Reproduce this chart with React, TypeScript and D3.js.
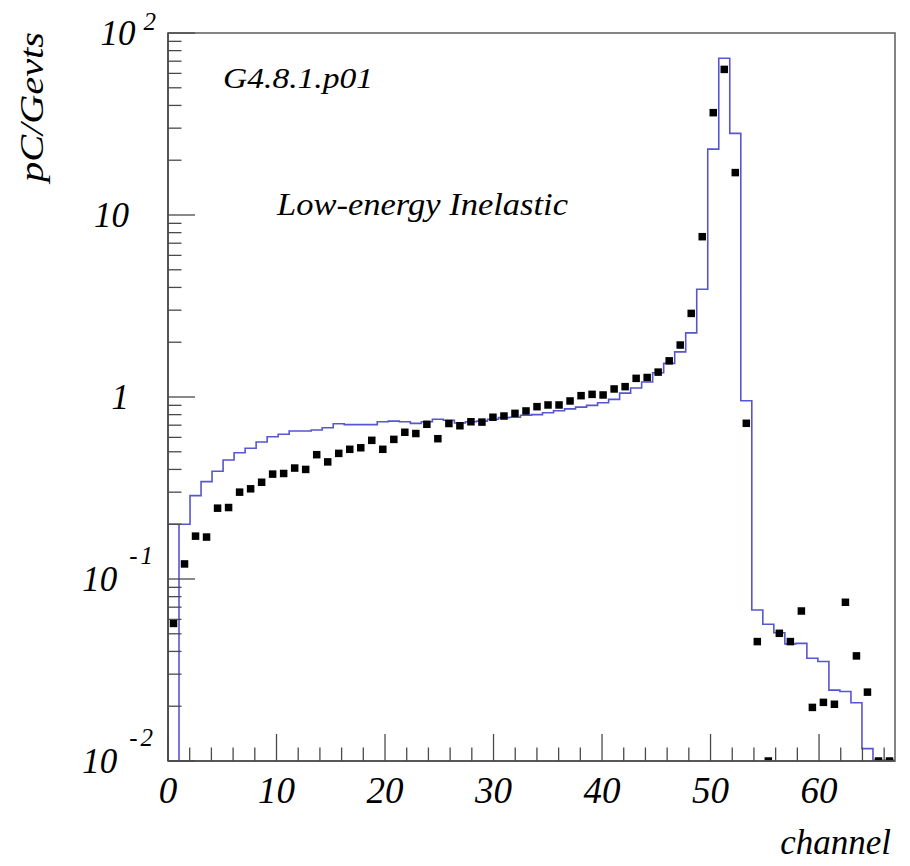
import React from 'react';
import * as d3 from 'd3';

// ---- data ----
const xMax = 67;
const yMin = 0.01;
const yMax = 100;
const majorXTicks = [0, 10, 20, 30, 40, 50, 60];
const minorXStep = 2;

// simulated histogram (blue line), one value per channel bin
const histValues = [
  0.2, 0.2, 0.287, 0.343, 0.391, 0.451, 0.494, 0.523, 0.566, 0.605,
  0.624, 0.65, 0.65, 0.659, 0.678, 0.713, 0.705, 0.705, 0.705, 0.731,
  0.737, 0.731, 0.716, 0.731, 0.754, 0.745, 0.72, 0.731, 0.737, 0.754,
  0.77, 0.774, 0.794, 0.8, 0.82, 0.84, 0.86, 0.88, 0.9, 0.93,
  0.97, 1.05, 1.12, 1.21, 1.36, 1.53, 1.77, 2.25, 3.91, 23.0,
  72.6, 28.1, 0.954, 0.0676, 0.0564, 0.0507, 0.0440, 0.0443, 0.0367, 0.0352,
  0.0245, 0.0241, 0.0209, 0.0117, 0.0101, 0.0101,
];

// measured data (black squares)
const dataValues = [
  0.057, 0.121, 0.172, 0.17, 0.245, 0.247, 0.3, 0.313, 0.34, 0.377,
  0.38, 0.407, 0.4, 0.482, 0.44, 0.49, 0.516, 0.526, 0.578, 0.516,
  0.585, 0.64, 0.63, 0.708, 0.59, 0.715, 0.695, 0.731, 0.728, 0.774,
  0.786, 0.813, 0.838, 0.885, 0.904, 0.904, 0.951, 1.017, 1.034, 1.026,
  1.107, 1.14, 1.266, 1.28, 1.37, 1.58, 1.93, 2.88, 7.6, 36.5,
  63.1, 17.1, 0.717, 0.0453, 0.01, 0.0503, 0.0453, 0.0667, 0.0197, 0.021,
  0.0205, 0.0745, 0.0378, 0.0239, 0.01, 0.01,
];

const yDecadeExponents = [-2, -1, 0, 1, 2];
const versionLabel = 'G4.8.1.p01';
const modelLabel = 'Low-energy Inelastic';
const yTitle = 'pC/Gevts';
const xTitle = 'channel';

export default function App() {
  const W = 910;
  const H = 866;
  const L = 168, R = 895, T = 33, B = 761;
  const x = d3.scaleLinear().domain([0, xMax]).range([L, R]);
  const y = d3.scaleLog().domain([yMin, yMax]).range([B, T]).clamp(true);

  const nBins = histValues.length;
  const binW = xMax / nBins;

  const stepPts: [number, number][] = [[0, yMin]];
  histValues.forEach((v, i) => stepPts.push([i * binW, v]));
  stepPts.push([nBins * binW, histValues[nBins - 1]]);
  stepPts.push([nBins * binW, yMin]);
  const stepLine = d3
    .line<[number, number]>()
    .x((d) => x(d[0]))
    .y((d) => y(d[1]))
    .curve(d3.curveStepAfter);

  const yTicks = y.ticks();
  const isDecade = (v: number) => Math.abs(Math.log10(v) - Math.round(Math.log10(v))) < 1e-6;
  const minorX = d3.range(0, xMax + 1e-9, minorXStep).filter((v) => !majorXTicks.includes(v));

  const sq = 7.5;
  const serif = "'Liberation Serif', 'DejaVu Serif', serif";
  const axisColor = '#4a4a4a';

  return (
    <svg width={W} height={H} style={{ position: 'absolute', left: 0, top: 0, background: '#fff' }}>
      <defs>
        <clipPath id="plot">
          <rect x={L} y={T} width={R - L} height={B - T} />
        </clipPath>
      </defs>
      <rect x={0} y={0} width={W} height={H} fill="#fff" />

      {/* histogram */}
      <g clipPath="url(#plot)">
        <path d={stepLine(stepPts) || ''} fill="none" stroke="#5656d0" strokeWidth={1.6} />
        <line x1={x(binW)} x2={x(binW)} y1={y(histValues[1])} y2={B} stroke="#5656d0" strokeWidth={1.6} />
        {dataValues.map((v, i) => (
          <rect key={i} x={x((i + 0.5) * binW) - sq / 2} y={y(v) - sq / 2} width={sq} height={sq} fill="#000" />
        ))}
      </g>

      {/* frame */}
      <rect x={L} y={T} width={R - L} height={B - T} fill="none" stroke="#666" strokeWidth={1.6} />

      {/* y ticks */}
      {yTicks.map((v, i) => (
        <line key={i} x1={L} x2={L + (isDecade(v) ? 27 : 13.5)} y1={y(v)} y2={y(v)} stroke={axisColor} strokeWidth={1.3} />
      ))}
      {/* x ticks */}
      {majorXTicks.map((v) => (
        <line key={'M' + v} x1={x(v)} x2={x(v)} y1={B} y2={B - 27} stroke={axisColor} strokeWidth={1.3} />
      ))}
      {minorX.map((v) => (
        <line key={'m' + v} x1={x(v)} x2={x(v)} y1={B} y2={B - 13.5} stroke={axisColor} strokeWidth={1.3} />
      ))}
      <line x1={L} x2={R} y1={B} y2={B} stroke={axisColor} strokeWidth={1.6} />
      <line x1={L} x2={L} y1={T} y2={B} stroke={axisColor} strokeWidth={1.6} />

      {/* x labels */}
      {majorXTicks.map((v) => (
        <text key={'xl' + v} x={x(v)} y={803} textAnchor="middle" fontFamily={serif} fontStyle="italic" fontSize={37} fill="#000">
          {v}
        </text>
      ))}

      {/* y labels */}
      {yDecadeExponents.map((e) => {
        const ty = y(Math.pow(10, e));
        if (e === 0 || e === 1) {
          return (
            <text key={'yl' + e} x={129} y={ty + 12} textAnchor="end" fontFamily={serif} fontStyle="italic" fontSize={35} fill="#000">
              {e === 0 ? '1' : '10'}
            </text>
          );
        }
        return (
          <text key={'yl' + e} x={156} y={ty + 12} textAnchor="end" fontFamily={serif} fontStyle="italic" fontSize={35} fill="#000">
            10
            <tspan dx={e > 0 ? 8 : 12} dy={e > 0 ? -15 : -27} fontSize={25} letterSpacing={e > 0 ? 0 : 3}>
              {String(e)}
            </tspan>
          </text>
        );
      })}

      {/* titles */}
      <text x={891} y={854} textAnchor="end" fontFamily={serif} fontStyle="italic" fontSize={35} fill="#000">
        {xTitle}
      </text>
      <text
        transform="translate(43,107) rotate(-90)"
        textAnchor="middle"
        fontFamily={serif}
        fontStyle="italic"
        fontSize={34}
        textLength={150}
        lengthAdjust="spacingAndGlyphs"
        fill="#000"
      >
        {yTitle}
      </text>

      {/* annotations */}
      <text x={223} y={88} fontFamily={serif} fontStyle="italic" fontSize={30} textLength={150} lengthAdjust="spacingAndGlyphs" fill="#000">
        {versionLabel}
      </text>
      <text x={277} y={215} fontFamily={serif} fontStyle="italic" fontSize={32} textLength={291} lengthAdjust="spacingAndGlyphs" fill="#000">
        {modelLabel}
      </text>
    </svg>
  );
}
